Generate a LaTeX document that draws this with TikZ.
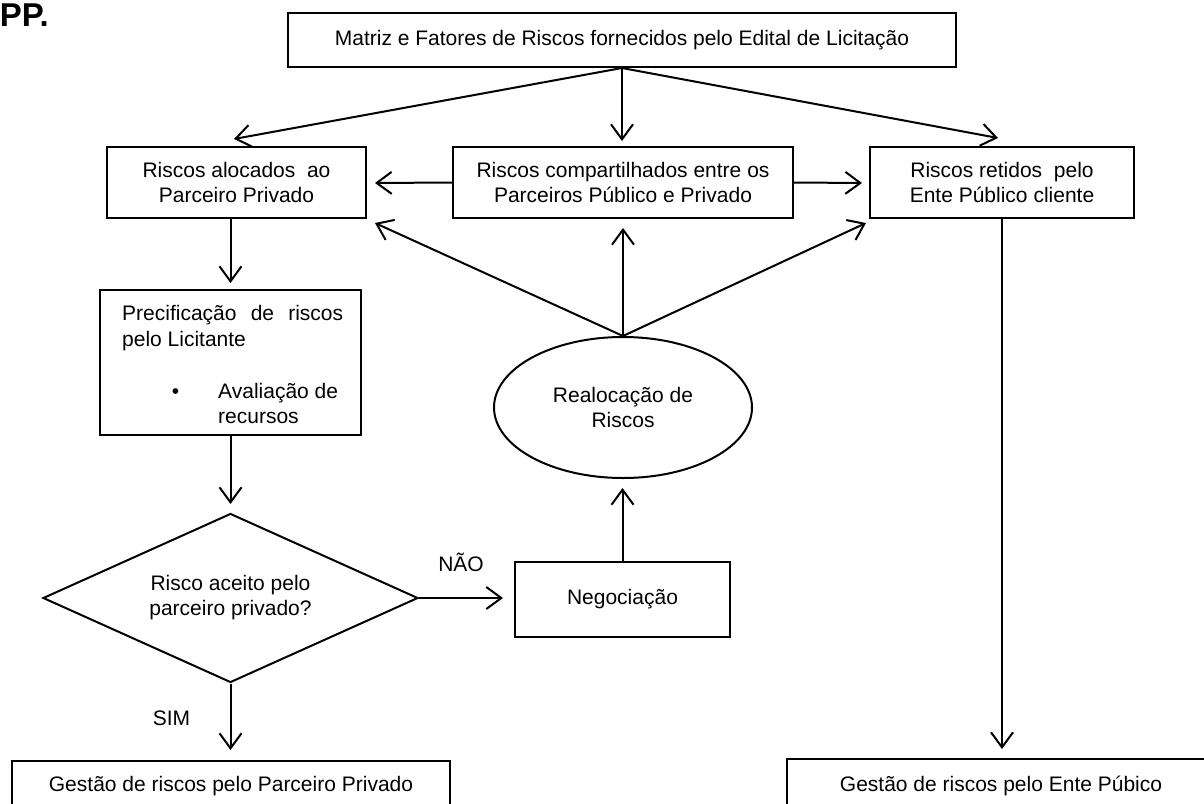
\documentclass[tikz,border=0pt]{standalone}
\usepackage{fontspec}
\setmainfont{Liberation Sans}
\usetikzlibrary{arrows.meta,shapes.geometric}
\begin{document}
\begin{tikzpicture}[x=1pt,y=-1pt,
  font=\fontsize{21}{25}\selectfont,
  box/.style={draw, line width=2pt, inner sep=0pt, align=center},
  arr/.style={line width=2pt, -{Straight Barb[length=15pt,width=22pt]}},
  lbl/.style={inner sep=0pt}]
\clip (0,0) rectangle (1204,803);

% heading fragment
\node[font=\fontsize{33}{33}\selectfont\bfseries, anchor=base east, inner sep=0pt] (pp) at (49,26) {PP.};

% top row
\node[box, minimum width=668pt, minimum height=54pt] (top) at (622,40)
  {Matriz e Fatores de Riscos fornecidos pelo Edital de Licitação};
\node[box, minimum width=259pt, minimum height=71pt] (lbox) at (236.5,182.5)
  {Riscos alocados\ \ ao\\Parceiro Privado};
\node[box, minimum width=340pt, minimum height=71pt] (mid) at (623,182.5)
  {Riscos compartilhados entre os\\Parceiros Público e Privado};
\node[box, minimum width=264pt, minimum height=71pt] (rbox) at (1002,182.5)
  {Riscos retidos\ \ pelo\\Ente Público cliente};

% pricing box
\node[box, minimum width=261pt, minimum height=145pt] (prec) at (230.5,362.5) {};
\node[lbl, anchor=base west] (p1) at (122,320) {\makebox[221pt][s]{Precificação de riscos}};
\node[lbl, anchor=base west] (p2) at (122,346) {pelo Licitante};
\node[lbl, anchor=base] (p3) at (175.5,398) {•};
\node[lbl, anchor=base west] (p4) at (218,398) {Avaliação de};
\node[lbl, anchor=base west] (p5) at (218,423) {recursos};

% reallocation, decision, negotiation
\node[draw, ellipse, line width=2pt, minimum width=258pt, minimum height=141pt,
  inner sep=0pt, align=center] (ell) at (623,407.5) {Realocação de\\Riscos};
\node[draw, diamond, aspect=2.2, line width=2pt, minimum width=375pt, minimum height=169pt,
  inner sep=0pt, align=center] (dia) at (230.5,598) {Risco aceito pelo\\parceiro privado?};
\node[box, minimum width=215pt, minimum height=75pt] (neg) at (622.5,599) {Negociação};

% bottom boxes
\node[draw, line width=2pt, anchor=north, inner xsep=0pt, inner ysep=15pt,
  minimum width=438pt, text height=15pt, text depth=40pt] (gpriv) at (231,760)
  {Gestão de riscos pelo Parceiro Privado};
\node[draw, line width=2pt, anchor=north, inner xsep=0pt, inner ysep=15pt,
  minimum width=428pt, text height=17pt, text depth=40pt] (gpub) at (1001,758)
  {Gestão de riscos pelo Ente Púbico};

% labels
\node[lbl] (nao) at (461,562) {NÃO};
\node[lbl] (sim) at (171.5,718) {SIM};

% arrow ends
\coordinate (tL) at (234,139);
\coordinate (tM) at (622,141);
\coordinate (tR) at (998,138);
\coordinate (mL) at (375,183);
\coordinate (mR) at (862,183);
\coordinate (eL) at (375,223);
\coordinate (eM) at (623,228);
\coordinate (eR) at (866,223);
\coordinate (lOut) at (230.5,218);
\coordinate (pIn) at (230.5,283);
\coordinate (dIn) at (230.5,504);
\coordinate (gIn) at (230.5,750);
\coordinate (nUp) at (622.5,488);
\coordinate (nIn) at (503,598);
\coordinate (rIn) at (1002,749);

% connectors
\draw[arr] (top.south) -- (tL);
\draw[arr] (top.south) -- (tM);
\draw[arr] (top.south) -- (tR);
\draw[arr] (mid.west) -- (mL);
\draw[arr] (mid.east) -- (mR);
\draw[arr] (ell.north) -- (eL);
\draw[arr] (ell.north) -- (eM);
\draw[arr] (ell.north) -- (eR);
\draw[arr] (lOut) -- (pIn);
\draw[arr] (prec.south) -- (dIn);
\draw[arr] (dia.south) -- (gIn);
\draw[arr] (dia.east) -- (nIn);
\draw[arr] (neg.north) -- (nUp);
\draw[arr] (rbox.south) -- (rIn);
\end{tikzpicture}
\end{document}
